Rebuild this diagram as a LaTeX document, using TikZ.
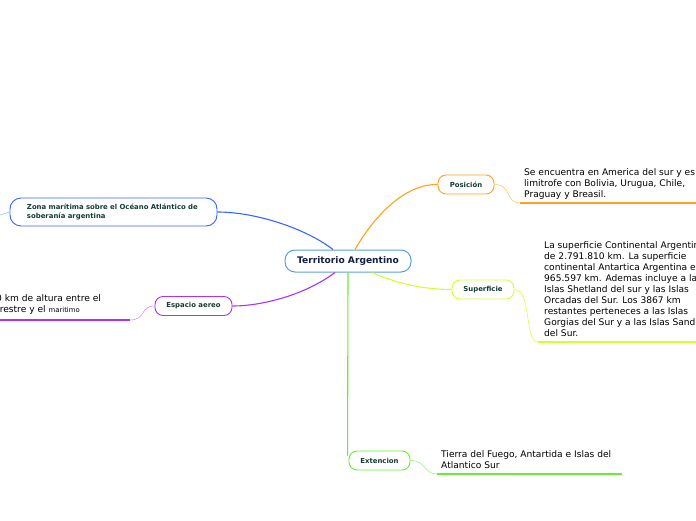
\documentclass[tikz,border=0pt]{standalone}
\usepackage{fontspec}
\setmainfont{DejaVu Sans}
\definecolor{cBlue}{RGB}{51,102,255}
\definecolor{cOrange}{RGB}{255,160,30}
\definecolor{cPurple}{RGB}{170,50,255}
\definecolor{cGreen}{RGB}{100,240,50}
\definecolor{cLime}{RGB}{210,255,50}
\definecolor{cCentral}{RGB}{90,160,220}
\definecolor{cTxt}{RGB}{20,60,50}
\definecolor{cNavy}{RGB}{20,30,70}
\begin{document}
\begin{tikzpicture}[x=1pt,y=-1pt,
  topic/.style={draw,line width=0.9pt,rounded corners=8pt,fill=white,inner sep=0pt,
    font=\fontsize{6.9}{8.4}\selectfont\bfseries,text=cTxt,minimum height=19pt},
  central/.style={draw=cCentral,line width=1pt,rounded corners=10pt,fill=white,inner sep=0pt,
    font=\fontsize{9.1}{11}\selectfont\bfseries,text=cNavy,minimum width=126pt,minimum height=22pt},
  body/.style={inner sep=0pt,anchor=north west,align=left,
    font=\fontsize{9.1}{11}\selectfont,text=black},
  branch/.style={line width=1.1pt},
  twig/.style={line width=0.5pt},
  uline/.style={line width=1.8pt}]
\clip (0,0) rectangle (696,520);
\fill[white] (0,0) rectangle (696,520);

% nodes
\node[central] (c) at (348,261) {Territorio Argentino};
\node[topic,draw=cOrange,minimum width=56pt] (pos) at (466,184.5) {Posición};
\node[topic,draw=cLime,minimum width=62pt] (sup) at (483,289.5) {Superficie};
\node[topic,draw=cGreen,minimum width=61pt] (ext) at (379.5,460.5) {Extencion};
\node[topic,draw=cPurple,minimum width=77pt] (esp) at (193.5,306) {Espacio aereo};
\node[topic,draw=cBlue,minimum width=207pt,minimum height=28pt,rounded corners=11pt,
  align=left,text width=173pt] (zon) at (113.5,212) {Zona marítima sobre el Océano Atlántico de\\soberanía argentina};

% main branches
\draw[branch,cBlue] ([xshift=-15pt]c.north) .. controls (305,228) and (255,212) .. (zon.east);
\draw[branch,cOrange] ([xshift=7pt]c.north) .. controls (375,215) and (405,184) .. (pos.west);
\draw[branch,cPurple] ([xshift=-13pt]c.south) .. controls (305,295) and (262,306) .. (esp.east);
\draw[branch,cGreen] (c.south) -- ([xshift=-1pt,yshift=5pt]ext.west);
\draw[branch,cLime] ([xshift=24pt]c.south) .. controls (400,285) and (428,289.5) .. (sup.west);

% sub branches
\coordinate (p1) at (520,203); \coordinate (p2) at (696,203);
\coordinate (s1) at (538,342); \coordinate (s2) at (696,342);
\coordinate (e1) at (437,474); \coordinate (e2) at (622,474);
\coordinate (a1) at (130,320); \coordinate (a2) at (0,320);
\coordinate (z1) at (0,215);

\draw[twig,cOrange!70] (pos.east) .. controls (512,184.5) and (505,203) .. (p1);
\draw[uline,cOrange] (p1) -- (p2);
\draw[twig,cLime] (sup.east) .. controls (532,289.5) and (524,342) .. (s1);
\draw[uline,cLime] (s1) -- (s2);
\draw[twig,cGreen!70] (ext.east) .. controls (426,460.5) and (424,474) .. (e1);
\draw[uline,cGreen] (e1) -- (e2);
\draw[twig,cPurple!60] (esp.west) .. controls (140,306) and (146,320) .. (a1);
\draw[uline,cPurple] (a1) -- (a2);
\draw[twig,cBlue!50] (zon.west) -- (z1);

% texts
\node[body] (tpos) at (524,168) {Se encuentra en America del sur y es\\limitrofe con Bolivia, Urugua, Chile,\\Praguay y Breasil.};
\node[body] (tsup) at (544,241) {La superficie Continental Argentin\\de 2.791.810 km. La superficie\\continental Antartica Argentina es\\965.597 km. Ademas incluye a la\\Islas Shetland del sur y las Islas\\Orcadas del Sur. Los 3867 km\\restantes perteneces a las Islas\\Gorgias del Sur y a las Islas Sand\\del Sur.};
\node[body] (text) at (441,450) {Tierra del Fuego, Antartida e Islas del\\Atlantico Sur};
\node[body] (tesp) at (-4,294) {0 km de altura entre el\\rrestre y el {\fontsize{6.9}{8}\selectfont maritimo}};
\end{tikzpicture}
\end{document}
